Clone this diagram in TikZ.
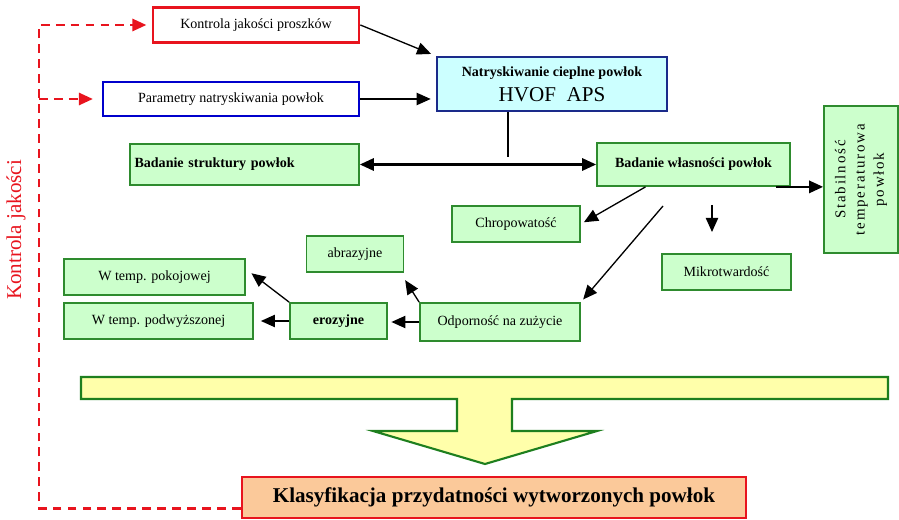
\documentclass[tikz,border=0pt]{standalone}
\usepackage{fontspec}
\setmainfont{Liberation Serif}
\newfontfamily\spacedfont[LetterSpace=12]{Liberation Serif}
\usetikzlibrary{arrows.meta,positioning,calc}
\definecolor{BoxGreen}{HTML}{CCFFCC}
\definecolor{BorderGreen}{HTML}{2E8B2E}
\definecolor{BoxCyan}{HTML}{CCFFFF}
\definecolor{BorderNavy}{HTML}{1A2A8A}
\definecolor{BorderBlue}{HTML}{0000CC}
\definecolor{QualityRed}{HTML}{E8141E}
\definecolor{BoxPeach}{HTML}{FBC99A}
\definecolor{ArrowYellow}{HTML}{FFFFAA}
\definecolor{ArrowGreen}{HTML}{1E7F1E}
\tikzset{
    % Base node style
    basenode/.style={
        draw=black,
        fill=white,
        line width=1pt,
        inner sep=2pt,
        align=center,
        font=\fontsize{8}{10}\selectfont
    },
    % Green result boxes
    greennode/.style={
        basenode,
        fill=BoxGreen,
        draw=BorderGreen,
        minimum height=0.72cm
    },
    % Bold green boxes
    boldgreennode/.style={
        greennode,
        font=\fontsize{8}{10}\selectfont\bfseries
    },
    % Input boxes
    inputnode/.style={
        basenode,
        line width=1.6pt,
        minimum height=0.7cm
    },
    % Process box
    processnode/.style={
        basenode,
        fill=BoxCyan,
        draw=BorderNavy,
        line width=1.2pt
    },
    % Final box
    finalnode/.style={
        basenode,
        fill=BoxPeach,
        draw=QualityRed,
        line width=1.6pt,
        font=\fontsize{12}{14}\selectfont\bfseries
    },
    % Arrow styles
    myarrow/.style={
        -{Triangle[length=8pt,width=7pt]},
        line width=0.75pt,
        draw=black
    },
    thickarrow/.style={
        myarrow,
        line width=1.3pt
    },
    biarrow/.style={
        {Triangle[length=8pt,width=7pt]}-{Triangle[length=8pt,width=7pt]},
        line width=1.3pt,
        draw=black
    },
    % Quality loop
    qcarrow/.style={
        -{Triangle[length=8pt,width=7pt]},
        line width=1.3pt,
        draw=QualityRed,
        dash pattern=on 5pt off 3.5pt
    },
    % Big summary arrow
    bigarrow/.style={
        draw=ArrowGreen,
        fill=ArrowYellow,
        line width=1.2pt,
        line join=miter
    }
}
\begin{document}
\begin{tikzpicture}[x=0.02cm, y=-0.02cm]
    \useasboundingbox (0,0) rectangle (899,520);

    % inputs and process
    \node[inputnode, draw=QualityRed, minimum width=4.12cm] (kontrola) at (256,25) {Kontrola jakości proszków};
    \node[inputnode, draw=BorderBlue, minimum width=5.12cm, minimum height=0.68cm] (parametry) at (231,99) {Parametry natryskiwania powłok};
    \node[processnode, minimum width=4.6cm, minimum height=1.08cm] (natrysk) at (552,84) {{\bfseries Natryskiwanie cieplne powłok}\\[4pt]{\fontsize{12}{13}\selectfont HVOF\ \ APS}};

    % investigations
    \node[boldgreennode, minimum width=4.58cm, minimum height=0.82cm, text width=4.4cm, align=left] (struktura) at (244.5,164.5) {Badanie struktury powłok};
    \node[boldgreennode, minimum width=3.86cm, minimum height=0.86cm] (wlasnosci) at (693.5,164.5) {Badanie własności powłok};
    \node[greennode, rotate=90, minimum width=2.94cm, minimum height=1.48cm, font=\spacedfont\fontsize{8.5}{11}\selectfont] (stabilnosc) at (861,179.5) {Stabilność\\temperaturowa\\powłok};
    \node[greennode, minimum width=2.56cm] (chropowatosc) at (516,224) {Chropowatość};
    \node[greennode, minimum width=2.58cm] (mikro) at (726.5,272) {Mikrotwardość};
    \node[greennode, minimum width=1.94cm] (abrazyjne) at (355,254) {abrazyjne};
    \node[greennode, minimum width=3.62cm] (pokojowej) at (154.5,277) {W temp. pokojowej};
    \node[greennode, minimum width=3.78cm] (podwyzszonej) at (158.5,321) {W temp. podwyższonej};
    \node[boldgreennode, minimum width=1.94cm] (erozyjne) at (338.5,321) {erozyjne};
    \node[greennode, minimum width=3.2cm, minimum height=0.76cm] (odpornosc) at (500,322) {Odporność na zużycie};

    % result
    \node[finalnode, minimum width=10.08cm, minimum height=0.82cm] (klasyfikacja) at (494,497.5) {Klasyfikacja przydatności wytworzonych powłok};
    \node[rotate=90, text=QualityRed, font=\fontsize{12}{14}\selectfont] (qclabel) at (16,230) {Kontrola jakości};

    \coordinate (join) at (508,157);
    \coordinate (zstart) at (663,206);
    \coordinate (mstart) at (712,205);
    \coordinate (qleft) at (39,300);

    \draw[myarrow, shorten >=3pt] (kontrola.east) -- (natrysk.north west);
    \draw[myarrow, shorten >=3pt] (parametry.east) -- (parametry.east -| natrysk.west);
    \draw[line width=0.75pt] (natrysk.south -| join) -- (join);
    \draw[biarrow] (struktura.east) -- (wlasnosci.west);
    \draw[thickarrow] ([xshift=-0.3cm]wlasnosci.south east) -- (wlasnosci.south east -| stabilnosc.north);
    \draw[myarrow, shorten >=2pt] ([xshift=-0.96cm]wlasnosci.south) -- (chropowatosc.east);
    \draw[myarrow, shorten >=2pt] (zstart) -- (odpornosc.north east);
    \draw[myarrow] (mstart) -- +(0,27);
    \draw[myarrow, shorten >=2pt] (odpornosc.west) -- (odpornosc.west -| erozyjne.east);
    \draw[myarrow] (odpornosc.north west) -- +(-14,-22);
    \draw[myarrow, shorten >=4pt] (erozyjne.west) -- (erozyjne.west -| podwyzszonej.east);
    \draw[myarrow, shorten >=4pt] (erozyjne.north west) -- ([yshift=0.16cm]pokojowej.east);

    % quality loop
    \draw[qcarrow, shorten >=3pt] ([yshift=-0.22cm]klasyfikacja.west) -| (qleft) |- (kontrola.west);
    \draw[qcarrow, shorten >=5pt] (qleft |- parametry.west) -- (parametry.west);

    % summary arrow
    \draw[bigarrow] (81,377) -- (888,377) -- (888,399) -- (512,399) -- (512,431) -- (597,431)
        -- (485,464) -- (373,431) -- (457,431) -- (457,399) -- (81,399) -- cycle;
\end{tikzpicture}
\end{document}
